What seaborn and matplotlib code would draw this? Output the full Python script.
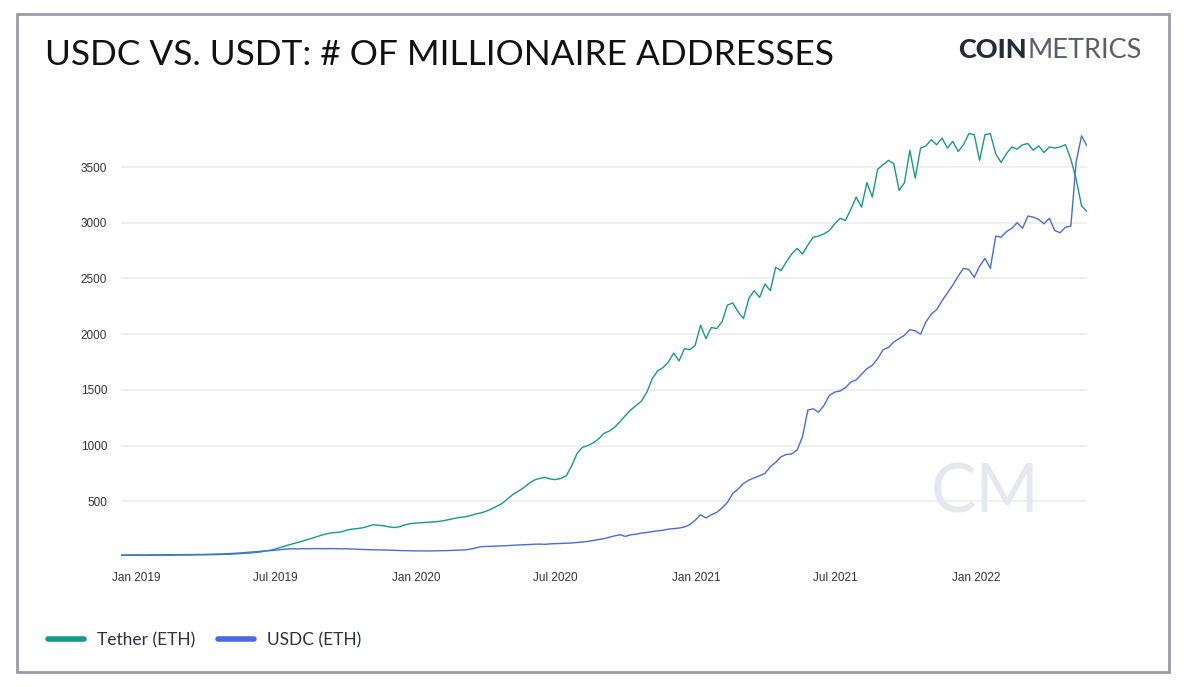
import pandas as pd
import matplotlib.pyplot as plt
import matplotlib.dates as mdates
from matplotlib.patches import Rectangle
import seaborn as sns

dates = pd.date_range('2018-12-12', periods=181, freq='7D')

tether = [
    14, 15, 15, 16, 16, 15, 16, 17, 17, 16,
    17, 18, 18, 19, 19, 20, 20, 21, 22, 23,
    25, 27, 30, 33, 36, 40, 45, 55, 62, 75,
    90, 105, 118, 130, 145, 160, 175, 190, 205, 215,
    220, 225, 240, 250, 255, 262, 275, 290, 285, 280,
    270, 265, 272, 290, 300, 305, 308, 312, 315, 318,
    325, 335, 345, 355, 360, 370, 385, 395, 410, 430,
    455, 480, 520, 560, 590, 620, 660, 690, 705, 715,
    700, 695, 705, 730, 820, 930, 985, 1000, 1025, 1060,
    1110, 1130, 1165, 1215, 1270, 1320, 1360, 1400, 1480, 1600,
    1670, 1700, 1750, 1830, 1760, 1870, 1860, 1900, 2080, 1960,
    2060, 2050, 2110, 2260, 2280, 2200, 2140, 2320, 2390, 2330,
    2450, 2390, 2600, 2570, 2650, 2720, 2770, 2720, 2800, 2870,
    2880, 2900, 2930, 2990, 3040, 3020, 3120, 3230, 3140, 3360,
    3230, 3480, 3520, 3560, 3530, 3290, 3360, 3650, 3400, 3670,
    3690, 3745, 3700, 3760, 3670, 3730, 3640, 3700, 3800, 3790,
    3560, 3790, 3800, 3620, 3540, 3620, 3680, 3660, 3700, 3710,
    3650, 3690, 3630, 3680, 3670, 3680, 3700, 3570, 3390, 3150,
    3100,
]

usdc = [
    18, 18, 19, 19, 18, 19, 20, 19, 20, 21,
    20, 21, 22, 22, 23, 23, 24, 25, 27, 28,
    30, 33, 36, 40, 44, 48, 52, 55, 58, 62,
    68, 72, 74, 73, 75, 74, 76, 75, 74, 76,
    75, 73, 74, 72, 70, 68, 66, 65, 64, 63,
    62, 60, 58, 57, 56, 55, 55, 54, 55, 56,
    57, 58, 60, 62, 64, 70, 80, 92, 95, 96,
    98, 100, 102, 105, 108, 110, 112, 115, 116, 114,
    118, 120, 122, 124, 126, 130, 135, 140, 148, 155,
    165, 178, 190, 200, 185, 200, 205, 215, 220, 228,
    235, 240, 250, 255, 260, 270, 290, 330, 380, 350,
    380, 400, 440, 490, 570, 610, 660, 690, 710, 730,
    750, 810, 850, 900, 920, 925, 960, 1080, 1320, 1330,
    1300, 1360, 1450, 1480, 1490, 1520, 1570, 1590, 1640, 1690,
    1720, 1780, 1860, 1880, 1930, 1960, 1990, 2040, 2030, 2000,
    2110, 2180, 2220, 2300, 2370, 2440, 2520, 2590, 2580, 2510,
    2610, 2680, 2590, 2880, 2870, 2920, 2950, 3000, 2950, 3060,
    3050, 3030, 2990, 3040, 2930, 2910, 2960, 2970, 3550, 3780,
    3690,
]

series_names = ['Tether (ETH)', 'USDC (ETH)']
colors = ['#17998a', '#4a6bdc']
y_ticks = [500, 1000, 1500, 2000, 2500, 3000, 3500]

df = pd.concat([
    pd.DataFrame({'date': dates, 'value': tether, 'asset': series_names[0]}),
    pd.DataFrame({'date': dates, 'value': usdc, 'asset': series_names[1]}),
])

sns.set_style('white')
plt.rcParams['font.family'] = ['Liberation Sans', 'DejaVu Sans']

fig = plt.figure(figsize=(11.87, 6.87), dpi=100)
ax = fig.add_axes([0.1019, 0.1892, 0.8138, 0.6488])

sns.lineplot(data=df, x='date', y='value', hue='asset', palette=colors,
             linewidth=1.0, ax=ax, legend=False)

ax.set_xlim(dates[0], dates[-1])
ax.set_ylim(0, 4000)
ax.set_yticks(y_ticks)
ax.yaxis.grid(True, color='#f0f0f0', linewidth=1.5)
ax.set_axisbelow(True)
ax.xaxis.set_major_locator(mdates.MonthLocator(bymonth=[1, 7]))
ax.xaxis.set_major_formatter(mdates.DateFormatter('%b %Y'))
ax.tick_params(axis='both', length=0, labelsize=8.5, labelcolor='#333333')
ax.tick_params(axis='x', pad=11)
ax.tick_params(axis='y', pad=10)
ax.set_xlabel('')
ax.set_ylabel('')
sns.despine(ax=ax, left=True, bottom=True)

# watermark
fig.text(0.83, 0.2547, 'CM', fontsize=49, color='#e6e8f0', family='Lato',
         weight='normal', ha='center', va='baseline', zorder=0)

# title and logo
fig.text(0.038, 0.905, 'USDC VS. USDT: # OF MILLIONAIRE ADDRESSES',
         fontsize=25.4, family='Lato', color='#111111', va='baseline')
t = fig.text(0.807, 0.916, 'COIN', fontsize=19.5, family='Lato', weight='black',
             color='#272a3b', va='baseline')
fig.canvas.draw()
bb = t.get_window_extent()
fig.text(bb.x1 / fig.bbox.width + 0.001, 0.916, 'METRICS', fontsize=19.5,
         family='Lato', weight='normal', color='#5a5d6b', va='baseline')

# legend
handles = [plt.Line2D([], [], color=c, linewidth=4) for c in colors]
fig.legend(handles, series_names, loc='center left', bbox_to_anchor=(0.027, 0.068),
           ncol=2, frameon=False, handlelength=2.1,
           columnspacing=1.3, handletextpad=0.75,
           prop={'family': 'Lato', 'size': 12.5}, labelcolor='#2c2f40')

# outer frame
fig.patches.append(Rectangle((0.0143, 0.0218), 0.9705, 0.9578,
                             transform=fig.transFigure, fill=False,
                             edgecolor='#9a9ca6', linewidth=2))

fig.savefig('out.png', dpi=100)
